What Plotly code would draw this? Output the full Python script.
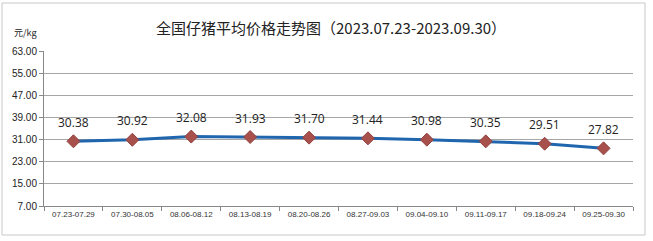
import plotly.graph_objects as go

categories = ["07.23-07.29", "07.30-08.05", "08.06-08.12", "08.13-08.19", "08.20-08.26",
              "08.27-09.03", "09.04-09.10", "09.11-09.17", "09.18-09.24", "09.25-09.30"]
prices = [30.38, 30.92, 32.08, 31.93, 31.70, 31.44, 30.98, 30.35, 29.51, 27.82]
y_ticks = [7, 15, 23, 31, 39, 47, 55, 63]

W, H = 653, 241
fig = go.Figure()
fig.add_trace(go.Scatter(
    x=categories, y=prices, mode="lines+markers",
    line=dict(color="#2066AE", width=3),
    marker=dict(symbol="diamond", size=10, color="#A8504C",
                line=dict(color="#904240", width=1)),
    hoverinfo="skip", showlegend=False,
))
for c, v in zip(categories, prices):
    fig.add_annotation(x=c, y=v, text=f"{v:.2f}", showarrow=False, yshift=19,
                       font=dict(size=12, color="#222", family="Open Sans, Liberation Sans, sans-serif"))

fig.add_annotation(xref="paper", yref="paper", x=(331 - 44) / (633 - 44),
                   y=(206 - 27) / (206 - 51), text="全国仔猪平均价格走势图（2023.07.23-2023.09.30）",
                   showarrow=False, font=dict(size=15, color="#222", family="Noto Sans CJK SC"),
                   xanchor="center", yanchor="middle")
fig.add_annotation(xref="paper", yref="paper", x=(12 - 44) / (633 - 44),
                   y=(206 - 33) / (206 - 51), text="元/kg", showarrow=False,
                   font=dict(size=9, color="#222", family="Noto Sans CJK SC"),
                   xanchor="left", yanchor="middle")

# outer frame
fig.add_shape(type="rect", xref="paper", yref="paper",
              x0=(2 - 44) / (633 - 44), x1=(645 - 44) / (633 - 44),
              y0=(206 - 235) / (206 - 51), y1=(206 - 3) / (206 - 51),
              line=dict(color="#C8C8C8", width=1), layer="below")

fig.update_layout(
    width=W, height=H,
    margin=dict(l=44, r=W - 633, t=51, b=H - 206),
    paper_bgcolor="white", plot_bgcolor="white",
    xaxis=dict(type="category", showgrid=False, showline=True, linecolor="#888",
               ticks="outside", ticklen=4, tickcolor="#888",
               tickson="boundaries",
               tickfont=dict(size=8, color="#333", family="Liberation Sans Narrow, Liberation Sans"),
               range=[-0.5, len(categories) - 0.5]),
    yaxis=dict(range=[7, 63], tickvals=y_ticks, ticktext=[f"{v:.2f}" for v in y_ticks],
               showgrid=True, gridcolor="#A6A6A6", gridwidth=1,
               showline=True, linecolor="#888", ticks="outside", ticklen=4, tickcolor="#888",
               zeroline=False,
               tickfont=dict(size=10, color="#222", family="Liberation Sans, sans-serif")),
)
fig.write_html("out.html")
